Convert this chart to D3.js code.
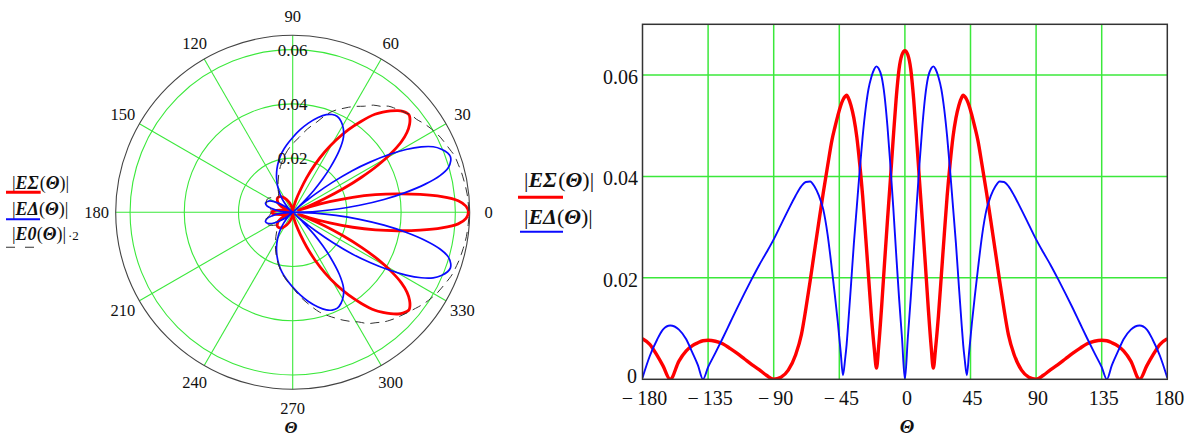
<!DOCTYPE html>
<html><head><meta charset="utf-8">
<script src="https://cdn.jsdelivr.net/npm/d3@7"></script>
<style>
html,body{margin:0;padding:0;background:#fff;}
svg{display:block;}
text{font-family:"Liberation Serif","Times New Roman",serif;fill:#111;}
</style>
</head><body>
<svg id="chart" width="1191" height="437"></svg>
<script>
// ---------------- DATA ----------------
const thetaDeg = [-180,-175,-170,-166,-161,-155,-150,-146,-142,-138.5,-135,-130,-125,-120,-115,-110,-105,-100,-95,-90,-85,-80,-75,-71,-68,-65,-62,-59,-56,-53,-50,-48,-46,-44,-42.5,-41,-40,-39,-37,-35,-33,-31,-29,-27,-25,-23,-21,-19.5,-18,-16,-14,-12,-10,-8,-6,-4,-2,
  0,2,4,6,8,10,12,14,16,18,19.5,21,23,25,27,29,31,33,35,37,39,40,41,42.5,44,46,48,50,53,56,59,62,65,68,71,75,80,85,90,95,100,105,110,115,120,125,130,135,138.5,142,146,150,155,161,166,170,175,180];

// |EΣ(Θ)|
const eSigma = [0.0080,0.0069,0.0047,0.0027,0.0000,0.0036,0.0056,0.0066,0.0072,0.0076,0.0077,0.0075,0.0070,0.0061,0.0051,0.0040,0.0029,0.0019,0.0008,0.0000,0.0004,0.0018,0.0048,0.0088,0.0138,0.0194,0.0253,0.0311,0.0368,0.0421,0.0472,0.0497,0.0520,0.0540,0.0551,0.0558,0.0560,0.0556,0.0540,0.0515,0.0478,0.0425,0.0362,0.0285,0.0205,0.0125,0.0060,0.0022,0.0065,0.0142,0.0228,0.0312,0.0392,0.0475,0.0553,0.0612,0.0640,
  0.0648,0.0640,0.0612,0.0553,0.0475,0.0392,0.0312,0.0228,0.0142,0.0065,0.0022,0.0060,0.0125,0.0205,0.0285,0.0362,0.0425,0.0478,0.0515,0.0540,0.0556,0.0560,0.0558,0.0551,0.0540,0.0520,0.0497,0.0472,0.0421,0.0368,0.0311,0.0253,0.0194,0.0138,0.0088,0.0048,0.0018,0.0004,0.0000,0.0008,0.0019,0.0029,0.0040,0.0051,0.0061,0.0070,0.0075,0.0077,0.0076,0.0072,0.0066,0.0056,0.0036,0.0000,0.0027,0.0047,0.0069,0.0080];

// |EΔ(Θ)|
const eDelta = [0.0003,0.0046,0.0078,0.0098,0.0106,0.0098,0.0079,0.0054,0.0028,0.0000,0.0024,0.0052,0.0081,0.0111,0.0141,0.0170,0.0198,0.0225,0.0250,0.0276,0.0305,0.0334,0.0362,0.0381,0.0389,0.0390,0.0380,0.0362,0.0335,0.0285,0.0215,0.0165,0.0112,0.0052,0.0008,0.0040,0.0068,0.0105,0.0185,0.0268,0.0340,0.0412,0.0478,0.0532,0.0572,0.0596,0.0612,0.0617,0.0613,0.0597,0.0560,0.0500,0.0424,0.0340,0.0248,0.0160,0.0082,
  0.0000,0.0082,0.0160,0.0248,0.0340,0.0424,0.0500,0.0560,0.0597,0.0613,0.0617,0.0612,0.0596,0.0572,0.0532,0.0478,0.0412,0.0340,0.0268,0.0185,0.0105,0.0068,0.0040,0.0008,0.0052,0.0112,0.0165,0.0215,0.0285,0.0335,0.0362,0.0380,0.0390,0.0389,0.0381,0.0362,0.0334,0.0305,0.0276,0.0250,0.0225,0.0198,0.0170,0.0141,0.0111,0.0081,0.0052,0.0024,0.0000,0.0028,0.0054,0.0079,0.0098,0.0106,0.0098,0.0078,0.0046,0.0003];

// |E0(Θ)|·2
const eZero2 = [0.0080,0.0083,0.0091,0.0102,0.0106,0.0104,0.0096,0.0086,0.0077,0.0077,0.0081,0.0092,0.0108,0.0127,0.0150,0.0175,0.0201,0.0228,0.0253,0.0278,0.0312,0.0345,0.0381,0.0404,0.0421,0.0439,0.0456,0.0472,0.0495,0.0510,0.0527,0.0536,0.0544,0.0551,0.0557,0.0563,0.0567,0.0571,0.0580,0.0589,0.0597,0.0604,0.0611,0.0616,0.0621,0.0627,0.0632,0.0634,0.0636,0.0639,0.0641,0.0643,0.0645,0.0647,0.0648,0.0649,
  0.0650,0.0650,0.0649,0.0648,0.0647,0.0645,0.0643,0.0641,0.0639,0.0636,0.0634,0.0632,0.0627,0.0621,0.0616,0.0611,0.0604,0.0597,0.0589,0.0580,0.0571,0.0567,0.0563,0.0557,0.0551,0.0544,0.0536,0.0527,0.0510,0.0495,0.0472,0.0456,0.0439,0.0421,0.0404,0.0381,0.0345,0.0312,0.0278,0.0253,0.0228,0.0201,0.0175,0.0150,0.0127,0.0108,0.0092,0.0081,0.0077,0.0077,0.0086,0.0096,0.0104,0.0106,0.0102,0.0091,0.0083,0.0080];

const xTicks = [-180,-135,-90,-45,0,45,90,135,180];
const yTicks = [0,0.02,0.04,0.06];
const yTickLabels = ["0","0.02","0.04","0.06"];
const polarAngleTicks = [0,30,60,90,120,150,180,210,240,270,300,330];
const polarRadialTicks = [0.02,0.04,0.06];
const polarRadialLabels = ["0.02","0.04","0.06"];

// ---------------- DRAWING ----------------
const rows = thetaDeg.map((t,i)=>({t:t, s:eSigma[i], d:eDelta[i], e:eZero2[i]}));
const svg = d3.select("#chart");
svg.append("rect").attr("width",1191).attr("height",437).attr("fill","#fff");

const GREEN = "#3be83b";
const RED = "#ff0000";
const BLUE = "#0a0aff";

function mathText(g, x, y, size, parts){
  const t = g.append("text").attr("x",x).attr("y",y).attr("font-size",size);
  parts.forEach(p=>{
    const s = t.append("tspan").text(p.txt);
    if(p.bi){ s.attr("font-weight","bold").attr("font-style","italic"); }
    if(p.dx) s.attr("dx",p.dx);
    if(p.fs) s.attr("font-size",p.fs);
  });
  return t;
}

// ===== Cartesian plot =====
const x = d3.scaleLinear().domain([-180,180]).range([642.5,1167.3]);
const y = d3.scaleLinear().domain([0,0.07]).range([379.3,24.3]);
const cg = svg.append("g");

cg.selectAll("line.vgrid").data(xTicks.slice(1,-1)).join("line").attr("class","vgrid")
  .attr("x1",d=>x(d)).attr("x2",d=>x(d)).attr("y1",y(0)).attr("y2",y(0.07))
  .attr("stroke",GREEN).attr("stroke-width",1.5);
cg.selectAll("line.hgrid").data(yTicks.slice(1)).join("line").attr("class","hgrid")
  .attr("x1",x(-180)).attr("x2",x(180)).attr("y1",d=>y(d)).attr("y2",d=>y(d))
  .attr("stroke",GREEN).attr("stroke-width",1.5);

svg.append("clipPath").attr("id","plotclip").append("rect")
  .attr("x",x(-180)).attr("y",y(0.07)).attr("width",x(180)-x(-180)).attr("height",y(0)-y(0.07));

const lineS = d3.line().x(d=>x(d.t)).y(d=>y(d.s)).curve(d3.curveMonotoneX);
const lineD = d3.line().x(d=>x(d.t)).y(d=>y(d.d)).curve(d3.curveMonotoneX);
const curves = cg.append("g").attr("clip-path","url(#plotclip)");
curves.append("path").datum(rows).attr("d",lineS).attr("fill","none").attr("stroke",RED).attr("stroke-width",3.4).attr("stroke-linejoin","round");
curves.append("path").datum(rows).attr("d",lineD).attr("fill","none").attr("stroke",BLUE).attr("stroke-width",1.9).attr("stroke-linejoin","round");

cg.append("rect").attr("x",x(-180)).attr("y",y(0.07)).attr("width",x(180)-x(-180)).attr("height",y(0)-y(0.07))
  .attr("fill","none").attr("stroke","#333").attr("stroke-width",1.5);

cg.selectAll("text.xt").data(xTicks).join("text").attr("class","xt")
  .attr("x",d=>x(d)+2).attr("y",405.2).attr("text-anchor","middle").attr("font-size",20)
  .text(d=> d<0 ? "\u2212\u2009"+Math.abs(d) : String(d));
cg.selectAll("text.yt").data(yTicks).join("text").attr("class","yt")
  .attr("x",d=> d===0 ? 637 : 638).attr("y",d=> d===0 ? 382.8 : y(d)+9).attr("text-anchor","end").attr("font-size",20)
  .text((d,i)=>yTickLabels[i]);
cg.append("text").attr("x",907).attr("y",433).attr("text-anchor","middle").attr("font-size",19)
  .attr("font-weight","bold").attr("font-style","italic").text("\u0398");

// right legend
mathText(cg, 524, 187, 22, [{txt:"|"},{txt:"E\u03A3",bi:true},{txt:"(",dx:1.5},{txt:"\u0398",bi:true},{txt:")"},{txt:"|"}]);
cg.append("line").attr("x1",518).attr("x2",563).attr("y1",197.3).attr("y2",197.3).attr("stroke",RED).attr("stroke-width",3);
mathText(cg, 524, 224, 22, [{txt:"|"},{txt:"E\u0394",bi:true},{txt:"("},{txt:"\u0398",bi:true},{txt:")"},{txt:"|"}]);
cg.append("line").attr("x1",520).attr("x2",563).attr("y1",231.7).attr("y2",231.7).attr("stroke",BLUE).attr("stroke-width",2);

// ===== Polar plot =====
const cx = 292.7, cy = 212.3, R = 177;
const r = d3.scaleLinear().domain([0,0.0653]).range([0,R]);
const pg = svg.append("g").attr("transform",`translate(${cx},${cy})`);

pg.selectAll("circle.pgrid").data(polarRadialTicks).join("circle").attr("class","pgrid")
  .attr("r",d=>r(d)).attr("fill","none").attr("stroke",GREEN).attr("stroke-width",1.1);
pg.selectAll("line.spoke").data(polarAngleTicks).join("line").attr("class","spoke")
  .attr("x1",0).attr("y1",0)
  .attr("x2",d=>R*Math.cos(d*Math.PI/180)).attr("y2",d=>-R*Math.sin(d*Math.PI/180))
  .attr("stroke",GREEN).attr("stroke-width",1.1);
pg.append("circle").attr("r",R).attr("fill","none").attr("stroke","#444").attr("stroke-width",1.1);

const rad = d=>(90-d.t)*Math.PI/180;
const pS = d3.lineRadial().angle(rad).radius(d=>r(d.s)).curve(d3.curveCatmullRom.alpha(0.5));
const pD = d3.lineRadial().angle(rad).radius(d=>r(d.d)).curve(d3.curveCatmullRom.alpha(0.5));
const pE = d3.lineRadial().angle(rad).radius(d=>r(d.e)).curve(d3.curveCatmullRom.alpha(0.5));
pg.append("path").datum(rows).attr("d",pS).attr("fill","none").attr("stroke",RED).attr("stroke-width",2.8).attr("stroke-linejoin","round");
pg.append("path").datum(rows).attr("d",pD).attr("fill","none").attr("stroke",BLUE).attr("stroke-width",1.7).attr("stroke-linejoin","round");
pg.append("path").datum(rows).attr("d",pE).attr("fill","none").attr("stroke","#333").attr("stroke-width",1).attr("stroke-dasharray","9,6");

pg.selectAll("text.pr").data(polarRadialTicks).join("text").attr("class","pr")
  .attr("x",0).attr("y",d=>-r(d)+6).attr("text-anchor","middle").attr("font-size",17)
  .text((d,i)=>polarRadialLabels[i]);
pg.selectAll("text.pa").data(polarAngleTicks).join("text").attr("class","pa")
  .attr("x",d=>196*Math.cos(d*Math.PI/180)).attr("y",d=>-196*Math.sin(d*Math.PI/180)+6)
  .attr("text-anchor","middle").attr("font-size",16.5).text(d=>String(d));
svg.append("text").attr("x",291).attr("y",433).attr("text-anchor","middle").attr("font-size",17)
  .attr("font-weight","bold").attr("font-style","italic").text("\u0398");

// left legend
const lg = svg.append("g");
mathText(lg, 12, 189, 18, [{txt:"|"},{txt:"E\u03A3",bi:true},{txt:"(",dx:1},{txt:"\u0398",bi:true},{txt:")"},{txt:"|"}]);
lg.append("line").attr("x1",6).attr("x2",40.7).attr("y1",192.3).attr("y2",192.3).attr("stroke",RED).attr("stroke-width",3);
mathText(lg, 12, 215, 18, [{txt:"|"},{txt:"E\u0394",bi:true},{txt:"("},{txt:"\u0398",bi:true},{txt:")"},{txt:"|"}]);
lg.append("line").attr("x1",6).attr("x2",40).attr("y1",219.3).attr("y2",219.3).attr("stroke",BLUE).attr("stroke-width",2);
mathText(lg, 12, 240, 18, [{txt:"|"},{txt:"E0",bi:true},{txt:"("},{txt:"\u0398",bi:true},{txt:")"},{txt:"|"},{txt:"\u00B72",dx:2,fs:13}]);
lg.append("line").attr("x1",6).attr("x2",38).attr("y1",247.3).attr("y2",247.3).attr("stroke","#333").attr("stroke-width",1.1).attr("stroke-dasharray","9,10");
</script>
</body></html>
